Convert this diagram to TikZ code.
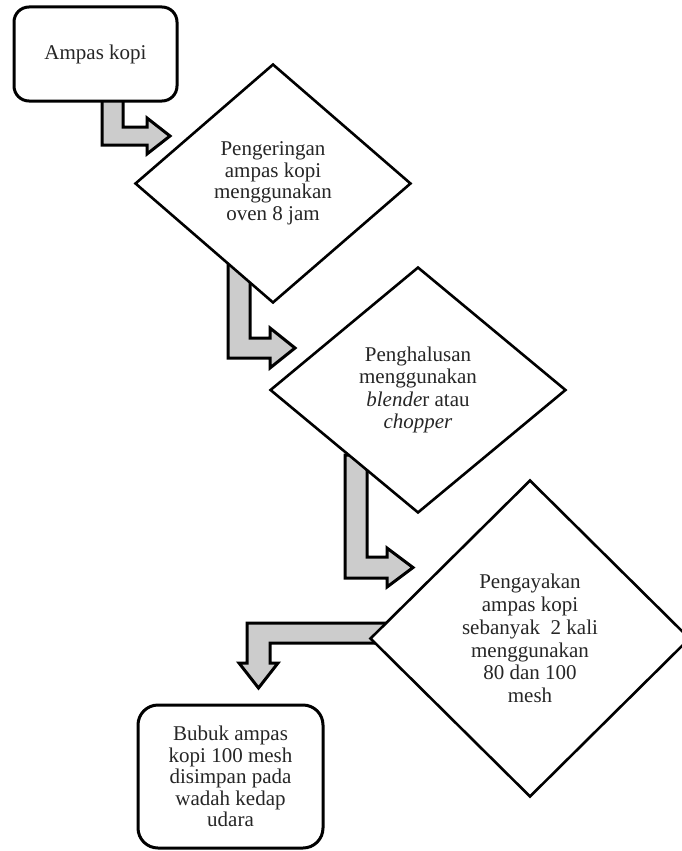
\documentclass[tikz,border=0pt]{standalone}
\usepackage{fontspec}
\setmainfont{Liberation Serif}
\usetikzlibrary{shapes.geometric,backgrounds}
\begin{document}
\begin{tikzpicture}[x=1pt,y=-1pt,
  txt/.style={font=\fontsize{21}{21.5}\selectfont, align=center, text=black!85},
  rbox/.style={txt, draw, fill=white, line width=3pt, rounded corners=15pt, inner sep=0pt},
  dia/.style={txt, diamond, draw, fill=white, line width=2.6pt, inner sep=0pt},
  barrow/.style={fill=black!20, draw=black, line width=3pt, line join=miter}]
\useasboundingbox (0,0) rectangle (682,851);
\clip (0,0) rectangle (682,851);
\node[rbox, minimum width=163pt, minimum height=94pt] (b1) at (95.5,54) {Ampas kopi};
\node[dia, minimum width=276pt, minimum height=239pt] (d1) at (273,183.5)
  {Pengeringan\\ampas kopi\\menggunakan\\oven 8 jam};
\node[dia, minimum width=296pt, minimum height=246pt, font=\fontsize{21}{22.5}\selectfont] (d2) at (418,390)
  {Penghalusan\\menggunakan\\\textit{blende}r atau\\\textit{chopper}};
\node[dia, minimum width=320pt, minimum height=317pt, font=\fontsize{21}{22.7}\selectfont] (d3) at (530,638.5)
  {Pengayakan\\ampas kopi\\sebanyak~ 2 kali\\menggunakan\\80 dan 100\\mesh};
\node[rbox, minimum width=185pt, minimum height=143pt, rounded corners=20pt] (b2) at (230.5,776.5)
  {Bubuk ampas\\kopi 100 mesh\\disimpan pada\\wadah kedap\\udara};
\begin{scope}[on background layer]
\draw[barrow] (102,95) -- (123,95) -- (123,127) -- (147,127) -- (147,118)
  -- (170,136) -- (147,154) -- (147,145) -- (102,145) -- cycle;
\draw[barrow] (228,262) -- (250,262) -- (250,338) -- (270,338) -- (270,328)
  -- (295,348) -- (270,368) -- (270,358) -- (228,358) -- cycle;
\draw[barrow] (345,455) -- (367,455) -- (367,557) -- (387,557) -- (387,548)
  -- (413,567.5) -- (387,587) -- (387,578) -- (345,578) -- cycle;
\draw[barrow] (390,623) -- (247,623) -- (247,663) -- (239,663) -- (258.5,688)
  -- (278,663) -- (270,663) -- (270,643) -- (390,643) -- cycle;
\end{scope}
\end{tikzpicture}
\end{document}
